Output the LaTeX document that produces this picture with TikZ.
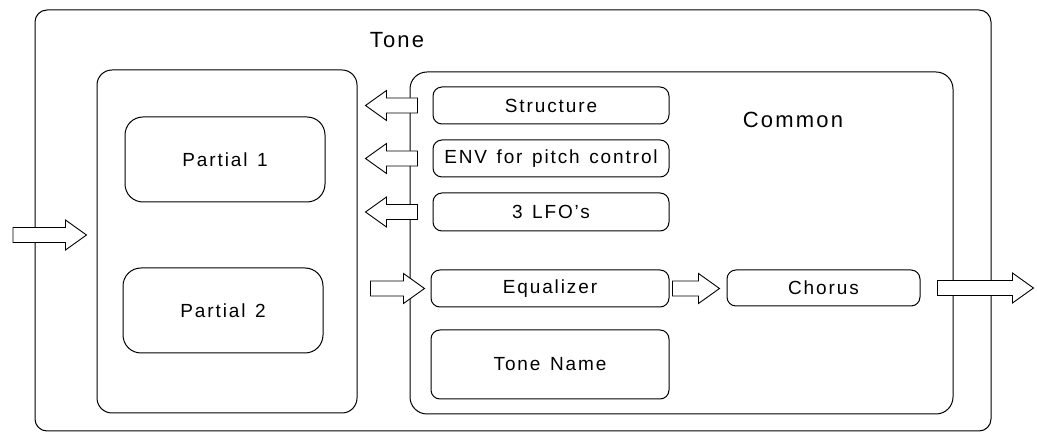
\documentclass[tikz,border=0pt]{standalone}
\usepackage{fontspec}
\setmainfont{Liberation Sans}[LetterSpace=10]
\usetikzlibrary{calc}
\newcommand\wsp{\hspace{0.5em}}
\newcommand\blockarrow[2]{%
 \draw[blk] let \p1=(#1), \p2=(#2), \n1={sign(\x2-\x1)} in
 (\x1,{\y1+7.5pt}) -- ({\x2-\n1*21pt},{\y1+7.5pt}) -- ({\x2-\n1*21pt},{\y1+15pt}) -- (\x2,\y1)
 -- ({\x2-\n1*21pt},{\y1-15pt}) -- ({\x2-\n1*21pt},{\y1-7.5pt}) -- (\x1,{\y1-7.5pt}) -- cycle;}
\begin{document}
\begin{tikzpicture}[x=1pt,y=-1pt,
  frame/.style={draw, line width=1pt, inner sep=0pt},
  box/.style={frame, rounded corners=9pt, font=\fontsize{19}{21}\selectfont},
  bigbox/.style={frame, rounded corners=18pt, font=\fontsize{19}{21}\selectfont},
  title/.style={font=\fontsize{22}{24}\selectfont, inner sep=0pt},
  blk/.style={draw, line width=0.9pt, fill=white}]
\useasboundingbox (0,0) rectangle (1037,435);
\fill[white] (0,0) rectangle (1037,435);
% containers
\node[frame, rounded corners=12pt, minimum width=956pt, minimum height=421pt] (tone) at (513,220.5) {};
\node[frame, rounded corners=15pt, minimum width=260pt, minimum height=343pt] (partgrp) at (227,241.5) {};
\node[frame, rounded corners=17pt, minimum width=543pt, minimum height=342pt] (common) at (681.5,243) {};
\node[title] (tonelbl) at (397,40) {Tone};
\node[title] (commonlbl) at (793,120) {Common};
% partials
\node[bigbox, minimum width=200pt, minimum height=85pt] (p1) at (225,159.5) {Partial\wsp 1};
\node[bigbox, minimum width=200pt, minimum height=85pt] (p2) at (223,310.5) {Partial\wsp 2};
% common items
\node[box, minimum width=236pt, minimum height=37pt] (structure) at (551,105.5) {Structure};
\node[box, minimum width=236pt, minimum height=37pt] (env) at (551,158.5) {ENV\wsp for\wsp pitch\wsp control};
\node[box, minimum width=236pt, minimum height=38pt] (lfo) at (551,212) {3\wsp LFO's};
\node[box, minimum width=238pt, minimum height=37pt] (equalizer) at (550,288.5) {Equalizer};
\node[box, minimum width=238pt, minimum height=69pt] (tonename) at (550,364.5) {Tone\wsp Name};
\node[box, minimum width=193pt, minimum height=36pt] (chorus) at (823.5,288) {Chorus};
% arrow end points
\coordinate (inS) at (13,235);
\coordinate (inE) at ($(partgrp.west)+(-10,-6.5)$);
\coordinate (a1s) at ($(structure.west)+(-15,0)$);
\coordinate (a1e) at ($(partgrp.east |- structure.west)+(8,0)$);
\coordinate (a2s) at ($(env.west)+(-15,0)$);
\coordinate (a2e) at ($(partgrp.east |- env.west)+(8,0)$);
\coordinate (a3s) at ($(lfo.west)+(-15,0)$);
\coordinate (a3e) at ($(partgrp.east |- lfo.west)+(8,0)$);
\coordinate (eqS) at ($(partgrp.east |- equalizer.west)+(13,0)$);
\coordinate (eqE) at ($(equalizer.west)+(-6,0)$);
\coordinate (chS) at ($(equalizer.east)+(3,0)$);
\coordinate (chE) at ($(chorus.west)+(-7,0)$);
\coordinate (outS) at ($(chorus.east)+(17,0)$);
\coordinate (outE) at ($(chorus.east)+(113,0)$);
% block arrows
\blockarrow{inS}{inE}
\blockarrow{a1s}{a1e}
\blockarrow{a2s}{a2e}
\blockarrow{a3s}{a3e}
\blockarrow{eqS}{eqE}
\blockarrow{chS}{chE}
\blockarrow{outS}{outE}
\end{tikzpicture}
\end{document}
